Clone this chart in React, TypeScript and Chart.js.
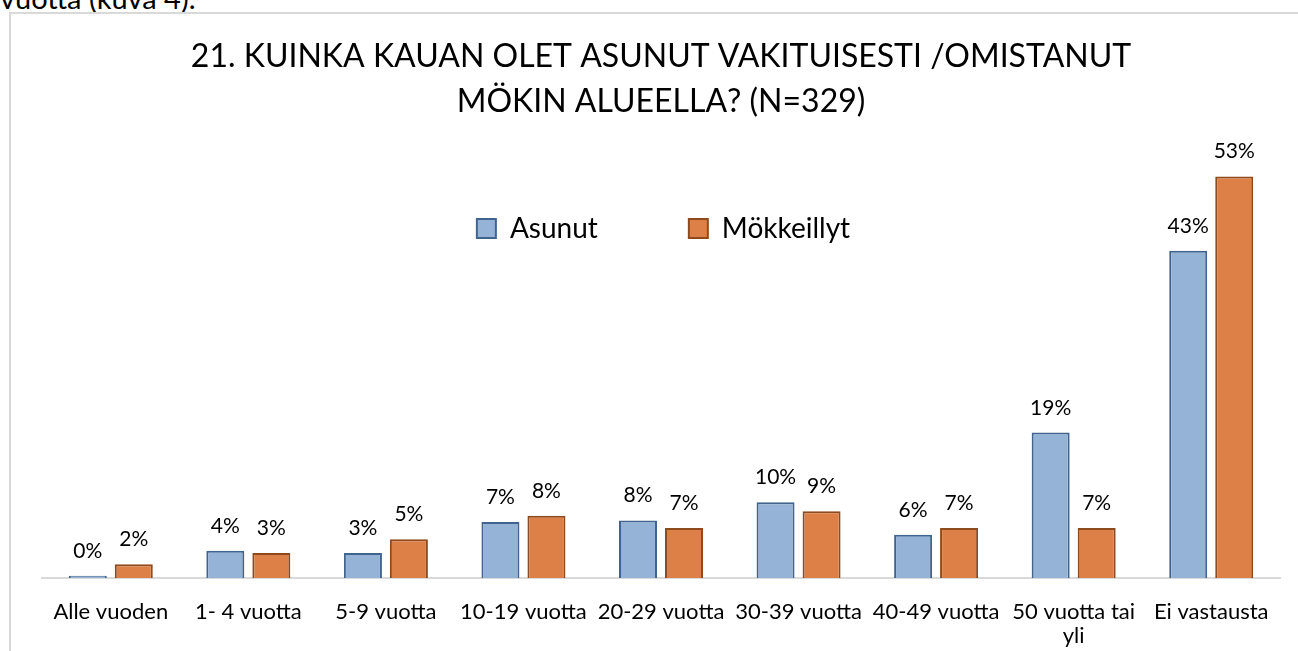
import React, { useEffect, useRef } from 'react';
import { Chart, registerables } from 'chart.js';

Chart.register(...registerables);

const categories: (string | string[])[] = [
  'Alle vuoden',
  '1- 4 vuotta',
  '5-9 vuotta',
  '10-19 vuotta',
  '20-29 vuotta',
  '30-39 vuotta',
  '40-49 vuotta',
  ['50 vuotta tai', 'yli'],
  'Ei vastausta',
];
const asunut = [0.3, 3.6, 3.3, 7.4, 7.6, 10.0, 5.7, 19.2, 43.2];
const mokkeillyt = [1.8, 3.3, 5.1, 8.2, 6.6, 8.8, 6.6, 6.6, 53.0];
const seriesNames = ['Asunut', 'Mökkeillyt'];
const titleLines = ['21. KUINKA KAUAN OLET ASUNUT VAKITUISESTI /OMISTANUT', 'MÖKIN ALUEELLA? (N=329)'];
const yMax = 58.6;
const pageText = 'vuotta (kuva 4).';

const FONT = 'Lato';

const legendPlacer = {
  id: 'legendPlacer',
  beforeLayout(chart: any) {
    const lg = chart.legend;
    if (lg && !lg._patched) {
      const orig = lg.fit.bind(lg);
      lg.fit = function () {
        orig();
        this.height = 0;
      };
      lg._patched = true;
    }
  },
  afterLayout(chart: any, _a: any, opts: any) {
    const lg = chart.legend;
    if (!lg) return;
    lg.top = opts.top;
    lg.bottom = opts.top + 300;
    lg.height = 300;
    lg.left += opts.dx;
    lg.right += opts.dx;
  },
};

const valueLabels = {
  id: 'valueLabels',
  afterDatasetsDraw(chart: any) {
    const ctx = chart.ctx;
    ctx.save();
    ctx.font = `21px ${FONT}`;
    ctx.fillStyle = '#000';
    ctx.textAlign = 'center';
    ctx.textBaseline = 'alphabetic';
    chart.data.datasets.forEach((ds: any, i: number) => {
      const meta = chart.getDatasetMeta(i);
      meta.data.forEach((el: any, j: number) => {
        const v = ds.data[j] as number;
        ctx.fillText(Math.round(v) + '%', el.x, el.y - 18);
      });
    });
    ctx.restore();
  },
};

export default function App() {
  const ref = useRef<HTMLCanvasElement | null>(null);

  useEffect(() => {
    if (!ref.current) return;
    const chart = new Chart(ref.current, {
      type: 'bar',
      data: {
        labels: categories as any,
        datasets: [
          {
            label: seriesNames[0],
            data: asunut,
            backgroundColor: '#95B3D7',
            borderColor: '#41648F',
            borderWidth: 2,
            categoryPercentage: 0.669,
            barPercentage: 0.826,
          },
          {
            label: seriesNames[1],
            data: mokkeillyt,
            backgroundColor: '#DD8047',
            borderColor: '#8E4A1C',
            borderWidth: 2,
            categoryPercentage: 0.669,
            barPercentage: 0.826,
          },
        ],
      },
      options: {
        animation: false,
        responsive: false,
        devicePixelRatio: 1,
        layout: { padding: { left: 31, right: 18, top: 0, bottom: 0 } },
        plugins: {
          title: {
            display: true,
            text: titleLines,
            color: '#000',
            font: { family: FONT, size: 32, weight: 'normal', lineHeight: 1.406 },
            padding: { top: 20, bottom: 10 },
          },
          legend: {
            display: true,
            position: 'top',
            labels: {
              boxWidth: 19,
              boxHeight: 19,
              color: '#000',
              padding: 91,
              font: { family: FONT, size: 28 },
            },
          },
          tooltip: { enabled: false },
          legendPlacer: { top: 109.5, dx: 2.5 },
        } as any,
        scales: {
          x: {
            grid: { display: false },
            border: { display: true, color: '#d9d9d9', width: 2 },
            ticks: {
              color: '#000',
              font: { family: FONT, size: 22, lineHeight: 1.1 },
              padding: 14,
              maxRotation: 0,
              autoSkip: false,
            },
            afterFit: (s: any) => {
              s.height = 73;
            },
          },
          y: {
            display: false,
            min: 0,
            max: yMax,
          },
        },
      },
      plugins: [legendPlacer, valueLabels],
    });
    return () => chart.destroy();
  }, []);

  return (
    <div style={{ position: 'fixed', left: 0, top: 0, width: 1298, height: 651, overflow: 'hidden', background: '#fff' }}>
      <div
        style={{
          position: 'absolute',
          left: 0,
          top: -17,
          fontFamily: FONT,
          fontSize: 29,
          lineHeight: '29px',
          color: '#000',
          whiteSpace: 'nowrap',
        }}
      >
        {pageText}
      </div>
      <div
        style={{
          position: 'absolute',
          left: 9,
          top: 12,
          width: 1400,
          height: 800,
          borderLeft: '2px solid #d9d9d9',
          borderTop: '2px solid #d9d9d9',
        }}
      />
      <canvas ref={ref} width={1287} height={637} style={{ position: 'absolute', left: 11, top: 14, width: 1287, height: 637 }} />
    </div>
  );
}
